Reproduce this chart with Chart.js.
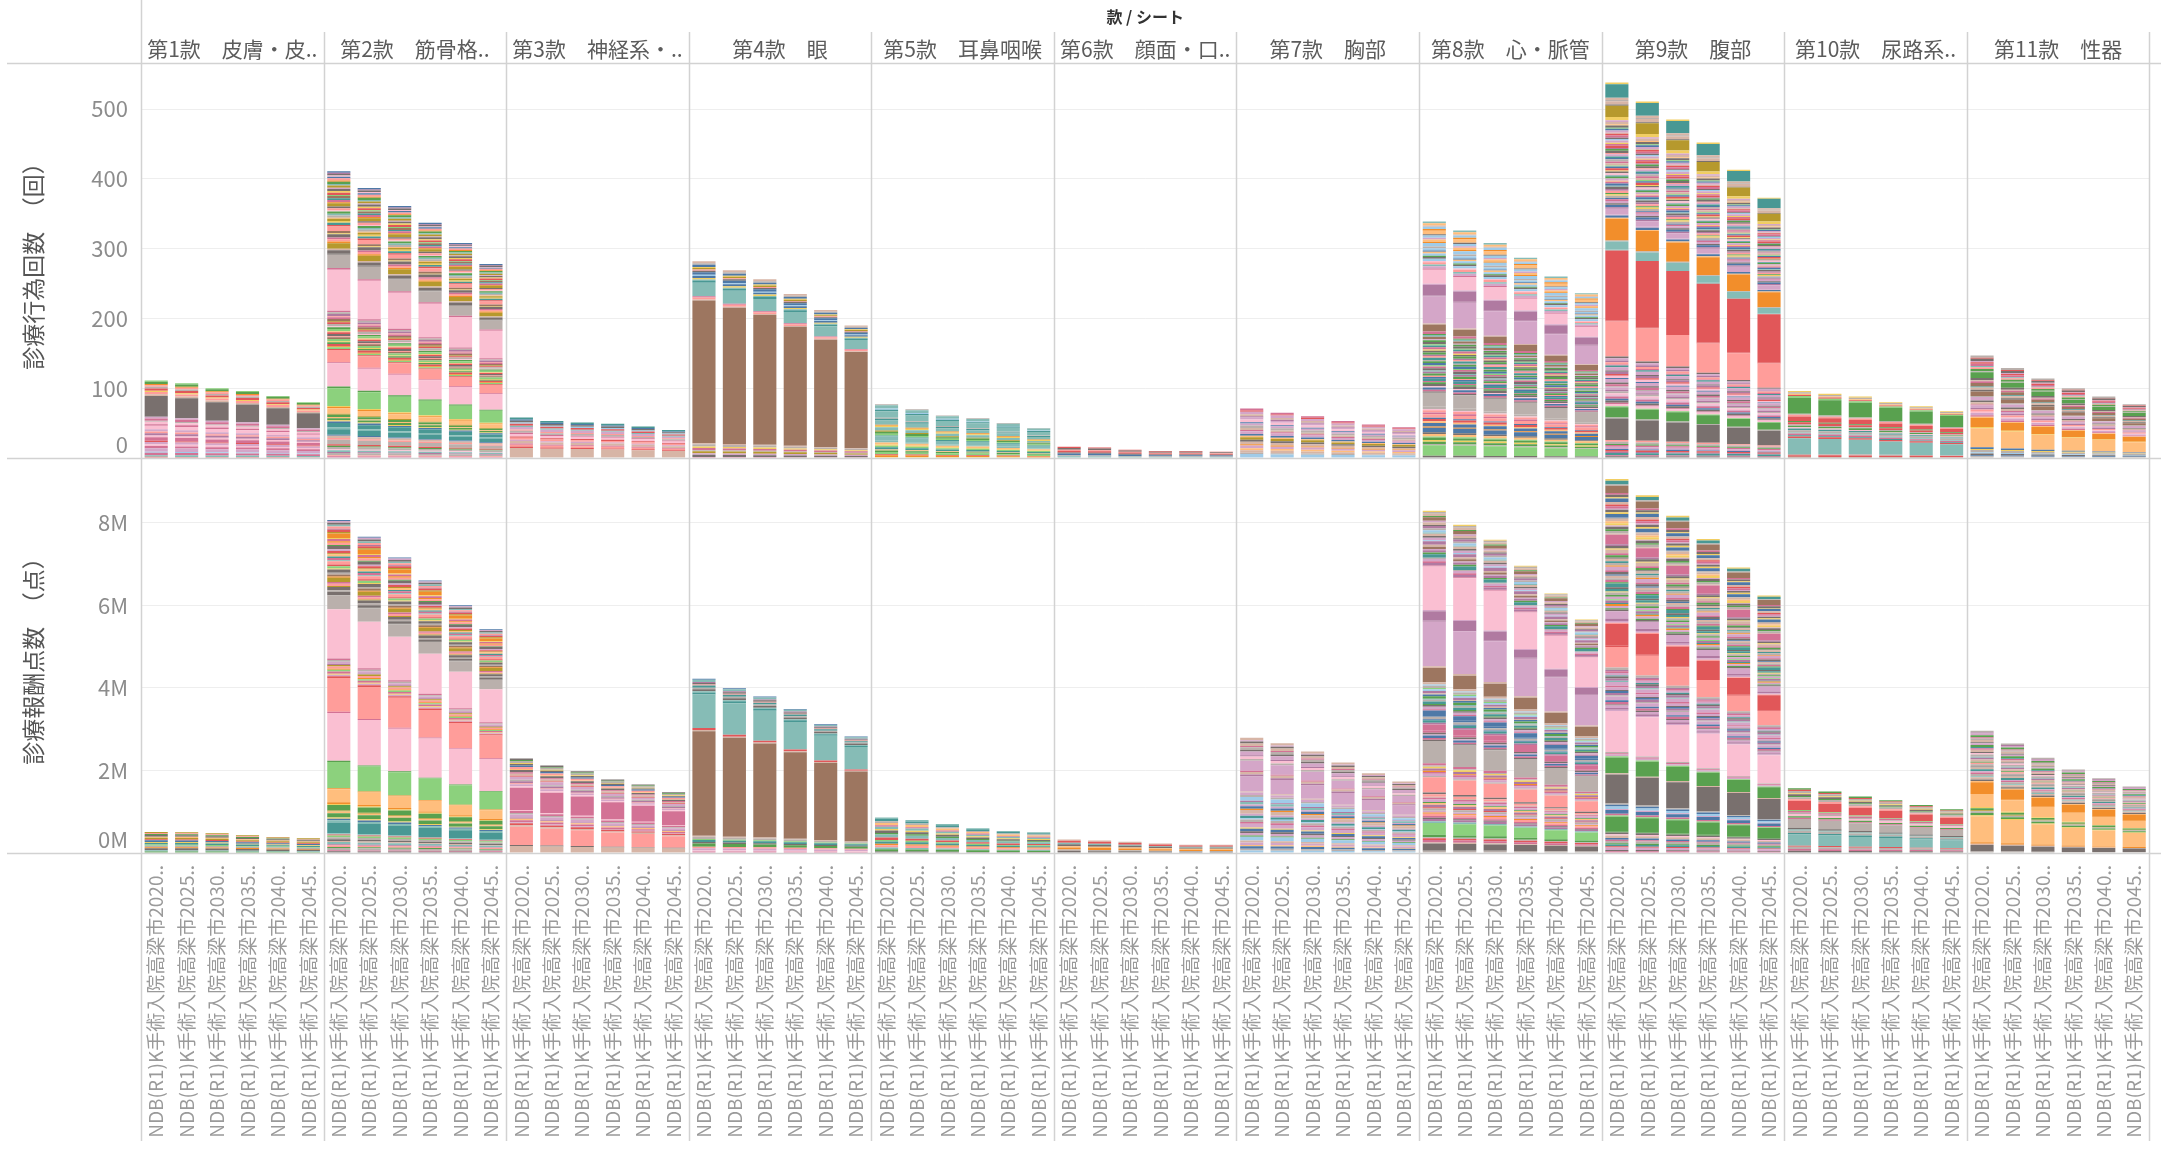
<!DOCTYPE html>
<html>
<head>
<meta charset="utf-8">
<script src="https://cdn.jsdelivr.net/npm/chart.js@4.4.1/dist/chart.umd.min.js"></script>
<style>
  html, body { margin: 0; padding: 0; background: #fff; }
  canvas { display: block; }
</style>
</head>
<body>
<canvas id="chart" width="2161" height="1158"></canvas>
<script>
const FONT = "'Noto Sans CJK JP', 'Noto Sans', sans-serif";

const panels = [
  "第1款　皮膚・皮..", "第2款　筋骨格..", "第3款　神経系・..", "第4款　眼",
  "第5款　耳鼻咽喉", "第6款　顔面・口..", "第7款　胸部", "第8款　心・脈管",
  "第9款　腹部", "第10款　尿路系..", "第11款　性器"
];
const years = ["2020", "2025", "2030", "2035", "2040", "2045"];
const sheetPrefix = "NDB(R1)K手術入院高梁市";

// 診療行為回数 (回) per panel, 2020..2045
const countTotals = [
  [111, 107, 100, 96, 89, 80],
  [411, 387, 361, 337, 308, 278],
  [58, 53, 51, 49, 45, 40],
  [282, 269, 256, 235, 212, 190],
  [77, 70, 61, 57, 50, 43],
  [16, 15, 12, 10, 10, 9],
  [71, 65, 60, 53, 48, 44],
  [339, 326, 308, 287, 260, 236],
  [538, 511, 485, 452, 413, 373],
  [96, 92, 88, 80, 74, 67],
  [147, 129, 114, 100, 88, 77]
];

// 診療報酬点数 (million 点) per panel, 2020..2045
const pointTotals = [
  [0.51, 0.505, 0.48, 0.43, 0.39, 0.36],
  [8.07, 7.66, 7.16, 6.60, 6.00, 5.42],
  [2.29, 2.12, 1.98, 1.78, 1.66, 1.47],
  [4.22, 3.99, 3.79, 3.49, 3.12, 2.82],
  [0.86, 0.80, 0.70, 0.60, 0.53, 0.50],
  [0.33, 0.30, 0.27, 0.23, 0.20, 0.20],
  [2.79, 2.66, 2.46, 2.19, 1.93, 1.73],
  [8.29, 7.95, 7.59, 6.96, 6.29, 5.66],
  [9.06, 8.67, 8.17, 7.61, 6.92, 6.24],
  [1.57, 1.49, 1.37, 1.28, 1.16, 1.06],
  [2.96, 2.65, 2.31, 2.02, 1.81, 1.61]
];

// Tableau 20 colours used for the procedure codes
const palette = [
  "#4E79A7", "#A0CBE8", "#F28E2B", "#FFBE7D", "#59A14F", "#8CD17D", "#B6992D", "#F1CE63",
  "#499894", "#86BCB6", "#E15759", "#FF9D9A", "#79706E", "#BAB0AC", "#D37295", "#FABFD2",
  "#B07AA1", "#D4A6C8", "#9D7660", "#D7B5A6"
];

// segment mix per panel, bottom -> top: [relative size, colour index]
const countMix = [
  [[1,10],[1.5,9],[2,14],[1,1],[3,17],[2,14],[1.5,15],[2,17],[1,10],[3,14],[1.5,15],[2,16],[1.5,11],[2,17],[3,15],[1.5,14],[2,15],[1,13],[2,14],[1.5,17],[18,12],[1.5,19],[2,11],[1,7],[2,10],[1.5,13],[1.5,11],[1,2],[2,4],[1,5]],
  [[1.5,14],[1,11],[2,13],[1,16],[1.5,9],[1,15],[2,13],[1,4],[1.5,10],[4,13],[1.5,11],[2,19],
   [1,0],[5,8],[1.5,9],[4,8],[1.5,0],[1,7],[2,4],[1,3],[2,4],[1,6],[5,3],[1,2],[1,7],[16,5],[1.5,4],[21,15],
   [1,14],[11,11],[1,10],
   [1.5,5],[1,2],[2,10],[1.5,4],[1,7],[2,5],[1.5,18],[1,11],[2,12],[1.5,10],[1,3],[2,5],[1.5,4],[1,15],[2,13],[1.5,10],[1,6],[2,18],[1.5,14],[1,11],[2,16],[1.5,13],[1.5,14],
   [37,15],[1.5,14],[12,13],[1,12],
   [3,12],[1.5,19],[5,6],[1.5,2],[2,11],[1.5,14],[3,12],[1,7],[2,18],[4,11],[1.5,10],[2,8],[1.5,7],[2,6],[1,3],[2,13],[1.5,9],[2,4],[1,15],[2,11],[1.5,12],[3,6],[1,2],[2,14],[1.5,8],[2,18],[1,5],[2,10],[1.5,7],[2,12],[1,17],[2,6],[1.5,9],[2,4],[1,2],[2,11],[1.5,0],[1,15],[1.5,12],[1,16],[1.5,0]],
  [[8,19],[1,10],[1.5,11],[1,14],[2,19],[1,17],[1.5,11],[1,10],[2,15],[1,14],[1.5,13],[1,11],[2,17],[1,9],[1.5,10],[1,1],[1.5,12],[1,0],[1.5,8]],
  [[1,14],[2,12],[1.5,17],[2,6],[1,13],[2,14],[1.5,7],[2,13],[1,19],[136,18],[1,19],[2,11],[1,14],[13,9],[2,8],[1,9],[1.5,7],[2,0],[1,1],[2.5,0],[1.5,12],[1,11],[1.5,6],[1,7],[2,0],[1.5,13],[2,19]],
  [[1,7],[1.5,2],[1,10],[2,5],[1.5,4],[1,3],[2,8],[1.5,5],[1,7],[2,3],[1.5,9],[4,9],[1,8],[1.5,5],[2,4],[1,6],[3,9],[1.5,7],[1,2],[4,9],[1.5,8],[1,13],[6,9],[1.5,8],[1,1],[3,9],[1,13]],
  [[1.5,9],[1,13],[1.5,0],[1,12],[1.5,10],[1,11],[1.5,12],[1,10]],
  [[3,1],[1,13],[2,19],[1.5,3],[2,17],[1,2],[2,19],[1.5,12],[2,6],[1,3],[1.5,0],[2,17],[1,14],[1.5,19],[2,13],[1.5,17],[1,0],[2,15],[1.5,17],[1,16],[1.5,19],[2,17],[1,10],[1.5,14]],
  [[2,12],[9,5],[1,13],[2,4],[1.5,7],[2,4],[1,5],[2,3],[1.5,12],
   [4,0],[1,2],[3,0],[1.5,3],[2,10],[1,0],[3,11],[1.5,14],[2,11],[1,15],[2,13],[12,13],[1,12],
   [1.5,14],[2,0],[1,15],[2,12],[1.5,4],[1,14],[2,8],[1.5,0],[1,11],[2,4],[1.5,16],[1,9],[2,12],[1.5,14],[1,5],[2,0],[1.5,4],[1,13],[2,8],[1.5,11],[1,16],[2,4],[1.5,12],[1,7],[2,14],[1.5,8],[1,5],[2,12],[1.5,4],[1,17],[2,18],[1.5,9],[1,4],[2,14],
   [6,18],[1,19],[23,17],[1,16],[9,16],[1,17],[12,15],[1,14],
   [2,17],[1.5,9],[2,11],[1,15],[2,1],[1.5,12],[1,4],[2,1],[1.5,3],[1,0],[2,1],[1.5,13],[3,1],[1,2],[2,3],[1.5,17],[2,1],[1,12],[3,3],[1.5,2],[2,1],[1,19],[2,3],[1.5,9]],
  [[1.5,12],[1,14],[2,8],[1,16],[1.5,10],[1,0],[2,17],[1.5,14],[1,4],[2,13],[1.5,11],
   [19,12],[1,13],[9,4],[1,5],
   [2,15],[1,14],[2,12],[1.5,0],[2,14],[1,17],[2,15],[1.5,13],
   [1.5,16],[2,17],[1,13],[2,14],[1.5,12],[3,17],[1,0],[2,15],[1.5,10],[2,16],[1,12],[3,17],[1.5,8],[1,14],[2,11],[1.5,16],[2,17],[1.5,12],
   [31,11],[1,10],[62,10],[1,9],[7,9],[1,13],[19,2],[1,3],
   [2,0],[1,17],[5,17],[1.5,16],[2,0],[1.5,12],
   [2,17],[1.5,14],[1,0],[2,13],[1.5,7],[1,4],[2,11],[1.5,16],[2,12],[1,9],[2,0],[1.5,14],[1,3],[2,17],[1.5,4],[1,8],[2,15],[1.5,12],[1,7],[2,10],[1.5,0],[1,5],[2,19],[1.5,14],[2,13],[1,0],[1.5,8],[2,17],[1,11],[2,12],[1.5,4],[1,16],[2,10],[1.5,14],[1,7],[2,17],[1.5,1],[1,12],[2,14],[1.5,10],[1,19],[2,17],[1.5,0],[1,5],[2,12],[1,3],[2,19],[1.5,17],
   [3,7],[10,6],[1,12],[3,19],[1,13],[2,19],[12,8],[1.5,7]],
  [[1,18],[1.5,10],[1,13],[14,9],[1.5,10],[1,8],[1.5,14],[1,9],[2,13],[1.5,8],[1,15],[1.5,4],[1,13],[2,10],[1,4],[4,10],[1.5,11],[1,13],[14,4],[1.5,5],[1,10],[1,3],[1.5,13],[1,7]],
  [[1.5,13],[1,0],[1.5,12],[1,1],[2,13],[1,7],[1.5,0],[17,3],[1,7],[8,2],[1,3],[1.5,14],[2,17],[1,15],[2,11],[1.5,16],[2,17],[1,14],[2,19],[1.5,12],[3,17],[1,13],[4,18],[1.5,12],[2,19],[1,8],[3,18],[1.5,14],[1,19],[2,12],[5,4],[1,13],[2,4],[1.5,11],[1,9],[2,14],[1.5,10],[1,17],[2,12],[1,10],[2,13]]
];

const pointMix = [
  [[1.5,4],[1,9],[2,12],[1,2],[1.5,13],[1,5],[1.5,8],[1,7],[1.5,0],[1,10],[1.5,6],[1,3],[1.5,12],[1,4],[1,11],[1,6]],
  [[1.5,12],[1,14],[2,13],[1,4],[1.5,11],[1,16],[2,9],[1,19],[1.5,12],[2,13],[1.5,5],[1,10],
   [1,9],[10,8],[2,9],[1.5,0],[1,7],[4,4],[1.5,3],[1,6],[5,4],[1,7],[1.5,2],[12,3],[1,2],[24,5],[1,4],
   [44,15],[1,14],[31,11],[1.5,10],
   [1.5,17],[1,7],[2,14],[1.5,5],[1,2],[2,11],[1.5,6],[1,16],[2,17],[1.5,13],[1.5,14],
   [45,15],[13,13],[1,12],
   [2,12],[1.5,13],[3,12],[1,6],[2,11],[1.5,14],[4,6],[1,2],[2,18],[1.5,13],[3,12],[1,7],[2,5],[1.5,10],[3,11],[1,9],[2,14],[1.5,8],[2,3],[1,6],[2,10],[1.5,17],[3,12],[1,4],[2,11],[1.5,2],[2,14],[1,7],[4,2],[1.5,6],[2,10],[1,16],[2,11],[1.5,9],[2,12],[1.5,17],[1,0]],
  [[7,19],[1,12],[18,11],[1.5,19],[2,10],[1,17],[2,14],[1.5,3],[1,16],[3,17],[1.5,13],[2,14],[1,15],[22,14],[1.5,15],[2,17],[1,11],[2,16],[1.5,13],[3,17],[1,10],[2,19],[1.5,14],[2,12],[1,3],[2,11],[1.5,0],[1.5,12],[1,7],[2,13],[1,4],[1.5,12]],
  [[1.5,14],[1,15],[2,17],[1.5,11],[3,4],[1.5,12],[2,8],[1,5],[2,13],[1,19],[100,18],[1,19],[2,10],[32,9],[2,8],[1,9],[2,12],[1.5,13],[2,8],[1,11],[1.5,12],[1,16],[2,9],[1,0]],
  [[1,12],[1.5,4],[1,9],[1.5,11],[1,2],[1.5,8],[1,5],[1.5,10],[2,9],[1,4],[1.5,12],[1,7],[1.5,9],[1,14],[1.5,3],[1,13],[1.5,8],[1,9]],
  [[1.5,12],[1,13],[1.5,2],[1,3],[1.5,12],[1,9],[1.5,10],[1,19]],
  [[2,1],[1.5,13],[2,0],[1,3],[2,17],[1.5,19],[3,1],[1,4],[2,17],[1.5,12],[2,0],[1,7],[3,17],[1.5,14],[2,13],[1,1],[2,8],[1.5,17],[3,19],[1,2],[2,0],[1.5,17],[2,9],[1,16],[3,1],[1.5,13],[2,17],[1,19],[12,17],[1.5,16],[2,19],[1,14],[8,17],[1.5,13],[2,15],[1,16],[3,17],[1.5,12],[2,13],[1,14],[2,19],[1.5,12],[1,17],[2,19]],
  [[2,13],[6,12],[1,19],[2,14],[1.5,10],[1,13],[2,4],[10,5],[1.5,9],[2,16],[1,12],
   [1.5,14],[2,11],[1,2],[1.5,17],[2,13],[1,10],[2,16],[1.5,3],[1,4],[2,17],[1.5,14],[1,19],[2,11],[1.5,12],[13,11],[1,13],[2,17],[1.5,14],[1,2],[2,16],[1.5,7],[1,13],[2,14],
   [19,13],[1,12],
   [1.5,14],[2,0],[1,17],[1.5,12],[2,14],[5,14],[1.5,16],[2,8],[1,0],[2,13],[1.5,0],[4,0],[1,14],[2,17],[1.5,12],[1,4],[2,8],[1.5,13],[1,9],[2,4],[1.5,0],[1,19],[2,16],[1.5,1],[1,5],[2,13],[1,1],
   [2,19],[12,18],[1.5,19],[38,17],[1,16],[8,16],[1,17],[37,15],[1,14],
   [2,16],[1.5,14],[2,17],[1,13],[3,8],[1.5,4],[2,16],[1,17],[2,18],[1.5,19],[3,16],[1,1],[2,17],[1.5,12],[2,19],[1,9],[2,1],[1.5,13],[2,16],[1,12],[2,19],[1.5,17],[3,18],[1,4],[2,19],[1.5,13],[1,7]],
  [[1.5,14],[1,12],[2,17],[1,10],[1.5,8],[1,4],[2,13],[1,14],[1.5,0],[2,19],[1,15],[1.5,12],[1,4],
   [12,4],[1,5],[1.5,14],[3,0],[1,17],[2,1],[1.5,0],[1,13],[24,12],[1,19],[13,4],[1,5],[1.5,17],[1,14],[1,13],
   [34,15],[1,17],
   [1.5,16],[2,17],[1,12],[2,14],[1.5,0],[3,17],[1,13],[2,16],[1.5,0],[1,12],[2,17],[1.5,14],[3,17],[1,9],[2,16],[1.5,12],[1,8],[2,17],[1.5,14],[1,16],[2,13],
   [17,11],[1,10],[18,10],[1,11],
   [1.5,17],[2,16],[6,17],[1.5,12],[1,4],[2,17],[1.5,2],[1,8],[2,16],[1,5],
   [2,17],[1.5,4],[2,13],[1,7],[2,8],[1.5,12],[3,8],[1,4],[2,14],[1.5,13],[2,19],[1,0],[2,12],[1.5,14],[3,17],[1,2],[2,13],[1.5,8],[2,19],[1,12],[2,4],[1.5,14],[3,19],[1,7],[2,12],[1.5,16],[8,14],[1,19],[2,13],[1.5,4],[2,12],[1,17],[2,7],[1.5,3],[2,19],[1,13],[3,0],[1.5,7],[2,12],[1,17],[2,14],[1.5,10],[2,19],[3,0],[1,7],[2,12],[1.5,14],[6,18],[1,13],[3,8],[1.5,7]],
  [[2,12],[1.5,14],[2,13],[1,10],[10,9],[1.5,8],[2,13],[1,9],[1.5,12],[8,13],[1,14],[1.5,4],[2,15],[1,13],[1.5,14],[1,5],[8,10],[1.5,11],[2,13],[1,4],[1.5,12],[1,7],[2,13],[1,10],[1.5,4]],
  [[1.5,13],[6,12],[1,19],[1.5,2],[24,3],[1,7],[2,4],[1.5,13],[1,6],[2,4],[1,7],[12,3],[1,2],[10,2],[1,3],[1.5,12],[2,19],[1,9],[2,13],[1.5,14],[1,17],[2,8],[1.5,19],[1,12],[2,13],[1.5,11],[1,4],[2,19],[1.5,16],[1,9],[2,13],[1.5,15],[1,12],[2,19],[1.5,14],[1,8],[2,4],[1.5,17],[1,12],[2,19],[1.5,13],[1,14],[2,4],[1.5,17],[1,16],[1.5,13]]
];

const labels = [];
panels.forEach(() => years.forEach((y) => labels.push(sheetPrefix + y + "..")));

function buildLayers(mix, totals, axisId) {
  const depth = Math.max(...mix.map((m) => m.length));
  const sets = [];
  for (let k = 0; k < depth; k++) {
    const data = [];
    const colors = [];
    mix.forEach((segs, p) => {
      const sum = segs.reduce((a, s) => a + s[0], 0);
      const s = segs[k];
      totals[p].forEach((t) => {
        data.push(s ? t * s[0] / sum : null);
        colors.push(s ? palette[s[1]] : "rgba(0,0,0,0)");
      });
    });
    sets.push({
      data: data,
      backgroundColor: colors,
      yAxisID: axisId,
      stack: "all",
      borderWidth: 0,
      barPercentage: 0.76,
      categoryPercentage: 1.0,
    });
  }
  return sets;
}

const frame = {
  id: "frame",
  afterDraw(chart) {
    const { ctx, chartArea: a } = chart;
    const mid = chart.scales.yCount.bottom;
    const w = (a.right - a.left) / panels.length;
    ctx.save();
    ctx.strokeStyle = "#d2d2d2";
    ctx.lineWidth = 1.5;
    ctx.beginPath();
    [a.top, mid, a.bottom].forEach((y) => {
      ctx.moveTo(7, Math.round(y) + 0.5);
      ctx.lineTo(chart.width, Math.round(y) + 0.5);
    });
    for (let k = 0; k <= panels.length; k++) {
      const x = Math.min(Math.round(a.left + k * w), chart.width - 1) + 0.5;
      ctx.moveTo(x, k === 0 ? 0 : 32);
      ctx.lineTo(x, 1141);
    }
    ctx.stroke();

    ctx.textAlign = "center";
    ctx.textBaseline = "middle";
    ctx.fillStyle = "#333";
    ctx.font = "bold 16px " + FONT;
    ctx.fillText("款 / シート", (a.left + a.right) / 2, 17);
    ctx.fillStyle = "#5c5c5c";
    ctx.font = "21px " + FONT;
    panels.forEach((name, k) => {
      ctx.fillText(name, a.left + (k + 0.5) * w, 49);
    });
    ctx.restore();
  },
};

const tickFont = { size: 22, family: FONT };
const titleFont = { size: 23, family: FONT };
// the zero label sits a little above the baseline, as in the original
const liftZero = (text) => (text === "0" || text === "0M" ? [text, ""] : text);

const ctx = document.getElementById("chart").getContext("2d");
const chart = new Chart(ctx, {
  type: "bar",
  data: {
    labels: labels,
    datasets: buildLayers(pointMix, pointTotals, "yPoints").concat(buildLayers(countMix, countTotals, "yCount")),
  },
  options: {
    responsive: false,
    animation: false,
    layout: { padding: { top: 63, left: 0, right: 0, bottom: 0 } },
    plugins: { legend: { display: false }, tooltip: { enabled: false } },
    scales: {
      x: {
        stacked: true,
        grid: { display: false },
        border: { display: false },
        ticks: {
          autoSkip: false,
          minRotation: 90,
          maxRotation: 90,
          padding: 4,
          color: "#9a9a9a",
          font: { size: 19, family: FONT },
        },
        afterFit: (s) => { s.height = 305; },
      },
      yPoints: {
        type: "linear",
        position: "left",
        stack: "rows",
        stackWeight: 1,
        stacked: true,
        min: 0,
        max: 9.57,
        border: { display: false },
        grid: { color: "#eeeeee", drawTicks: false },
        ticks: {
          stepSize: 2,
          autoSkip: false,
          includeBounds: false,
          padding: 13,
          color: "#8c8c8c",
          font: tickFont,
          callback: (v) => liftZero(v + "M"),
        },
        title: { display: true, text: "診療報酬点数　（点）", color: "#555", font: titleFont, padding: { top: 19, bottom: 0 } },
        afterFit: (s) => { s.width = 141; },
      },
      yCount: {
        type: "linear",
        position: "left",
        stack: "rows",
        stackWeight: 1,
        stacked: true,
        min: 0,
        max: 566,
        border: { display: false },
        grid: { color: "#eeeeee", drawTicks: false },
        ticks: {
          stepSize: 100,
          autoSkip: false,
          includeBounds: false,
          padding: 13,
          color: "#8c8c8c",
          font: tickFont,
          callback: (v) => liftZero(String(v)),
        },
        title: { display: true, text: "診療行為回数　（回）", color: "#555", font: titleFont, padding: { top: 19, bottom: 0 } },
        afterFit: (s) => { s.width = 141; },
      },
    },
  },
  plugins: [frame],
});
</script>
</body>
</html>
